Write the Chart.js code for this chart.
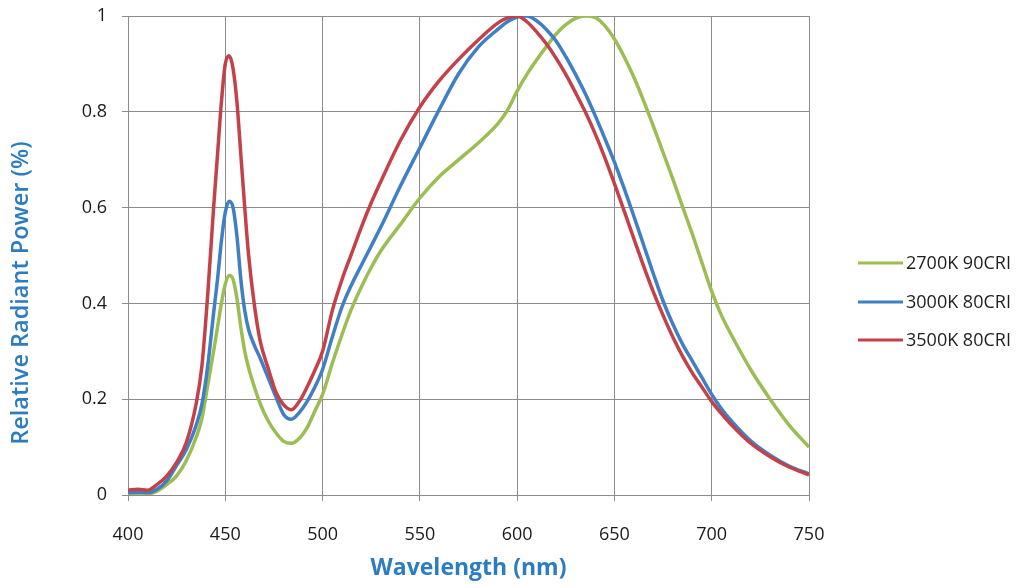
<!DOCTYPE html>
<html>
<head>
<meta charset="utf-8">
<script src="https://cdn.jsdelivr.net/npm/chart.js@4"></script>
<style>
html,body{margin:0;padding:0;background:#fff;}
#wrap{width:1022px;height:588px;position:relative;}
</style>
</head>
<body>
<div id="wrap"><canvas id="c" width="1022" height="588"></canvas></div>
<script>
const wavelengths = [400,405,410,415,420,425,430,435,438,441,444,446,448,450,452,454,456,458,460,462,465,468,472,476,480,484,488,492,496,500,505,510,515,520,525,530,540,550,560,570,580,590,595,600,605,610,615,620,625,630,635,640,645,650,655,660,665,670,675,680,685,690,695,700,705,710,720,730,740,750];

const green2700 = [0.000,0.001,0.002,0.008,0.022,0.040,0.072,0.120,0.160,0.230,0.300,0.350,0.400,0.440,0.458,0.450,0.410,0.350,0.300,0.265,0.225,0.190,0.155,0.130,0.112,0.108,0.118,0.140,0.175,0.210,0.275,0.335,0.390,0.435,0.475,0.510,0.565,0.620,0.665,0.700,0.735,0.775,0.803,0.843,0.878,0.908,0.936,0.962,0.982,0.995,1.000,0.997,0.980,0.952,0.915,0.872,0.823,0.770,0.715,0.660,0.602,0.545,0.485,0.425,0.375,0.335,0.262,0.200,0.145,0.100];

const blue3000 = [0.005,0.006,0.005,0.012,0.030,0.062,0.095,0.145,0.190,0.270,0.380,0.450,0.530,0.590,0.613,0.600,0.540,0.450,0.385,0.345,0.312,0.285,0.245,0.205,0.168,0.158,0.172,0.195,0.225,0.262,0.330,0.393,0.440,0.480,0.520,0.560,0.645,0.725,0.805,0.880,0.935,0.972,0.988,0.998,1.000,0.990,0.972,0.948,0.915,0.878,0.838,0.793,0.745,0.695,0.640,0.582,0.522,0.462,0.405,0.357,0.315,0.280,0.245,0.210,0.180,0.155,0.113,0.083,0.060,0.044];

const red3500 = [0.010,0.012,0.010,0.022,0.040,0.068,0.110,0.190,0.270,0.420,0.600,0.710,0.820,0.900,0.917,0.890,0.820,0.710,0.600,0.500,0.395,0.320,0.265,0.215,0.188,0.178,0.195,0.225,0.260,0.300,0.385,0.450,0.505,0.560,0.610,0.655,0.740,0.810,0.865,0.910,0.950,0.985,0.996,1.000,0.988,0.967,0.942,0.912,0.878,0.840,0.800,0.755,0.705,0.650,0.593,0.535,0.478,0.424,0.375,0.330,0.290,0.255,0.225,0.195,0.170,0.147,0.108,0.080,0.058,0.042];

const seriesNames = ['2700K 90CRI','3000K 80CRI','3500K 80CRI'];
const seriesColors = ['#9bbd52','#3f7fc6','#c4414a'];
const xTickValues = [400,450,500,550,600,650,700,750];
const yTickLabels = ['0','0.2','0.4','0.6','0.8','1'];
const xTitle = 'Wavelength (nm)';
const yTitle = 'Relative Radiant Power (%)';
const titleColor = '#2b7cc0';

function pts(vals){ return wavelengths.map((w,i)=>({x:w,y:vals[i]})); }

const overlay = {
  id:'overlay',
  afterDraw(chart){
    const ctx = chart.ctx;
    ctx.save();
    ctx.translate(21, 293);
    ctx.rotate(-Math.PI/2);
    ctx.font = '600 23.5px "Open Sans"';
    ctx.fillStyle = titleColor;
    ctx.textAlign = 'center';
    ctx.textBaseline = 'middle';
    ctx.fillText(yTitle, 0, 0);
    ctx.restore();
    const ys = [263, 302, 340];
    ctx.save();
    chart.data.datasets.forEach((ds, i) => {
      ctx.strokeStyle = ds.borderColor;
      ctx.lineWidth = 3;
      ctx.beginPath();
      ctx.moveTo(858, ys[i]);
      ctx.lineTo(903, ys[i]);
      ctx.stroke();
      ctx.font = '18px "Open Sans"';
      ctx.fillStyle = '#1e1e1e';
      ctx.textAlign = 'left';
      ctx.textBaseline = 'middle';
      ctx.fillText(ds.label, 906, ys[i] + 1);
    });
    ctx.restore();
  }
};

const gridColor = '#8c8c8c';
new Chart(document.getElementById('c'), {
  type:'line',
  data:{
    datasets:[
      {label:seriesNames[0], data:pts(green2700), borderColor:seriesColors[0], order:3},
      {label:seriesNames[1], data:pts(blue3000), borderColor:seriesColors[1], order:2},
      {label:seriesNames[2], data:pts(red3500), borderColor:seriesColors[2], order:1}
    ].map(d=>Object.assign(d,{borderWidth:3.5,pointRadius:0,fill:false,cubicInterpolationMode:'monotone'}))
  },
  options:{
    responsive:false,
    animation:false,
    events:[],
    layout:{autoPadding:false,padding:{top:16,right:213,left:0,bottom:0}},
    plugins:{legend:{display:false},tooltip:{enabled:false}},
    scales:{
      x:{
        type:'linear',min:400,max:750,
        afterBuildTicks(s){ s.ticks = xTickValues.map(v=>({value:v})); },
        afterFit(s){ s.height = 93; s.paddingLeft = 0; s.paddingRight = 0; },
        grid:{color:gridColor,lineWidth:1,tickLength:6,drawTicks:true},
        border:{color:gridColor},
        ticks:{font:{family:'Open Sans',size:18},color:'#1a1a1a',padding:23,maxRotation:0},
        title:{display:true,text:xTitle,color:titleColor,font:{family:'Open Sans',size:23,weight:'bold'},padding:{top:0,bottom:6}}
      },
      y:{
        type:'linear',min:0,max:1,
        afterBuildTicks(s){ s.ticks = yTickLabels.map(t=>({value:parseFloat(t)})); },
        afterFit(s){ s.width = 128; s.paddingTop = 0; s.paddingBottom = 0; },
        grid:{color:gridColor,lineWidth:1,tickLength:6,drawTicks:true},
        border:{color:gridColor},
        ticks:{font:{family:'Open Sans',size:18},color:'#1a1a1a',padding:15,
          callback:(v,i)=>yTickLabels[i]}
      }
    }
  },
  plugins:[overlay]
});
</script>
</body>
</html>
